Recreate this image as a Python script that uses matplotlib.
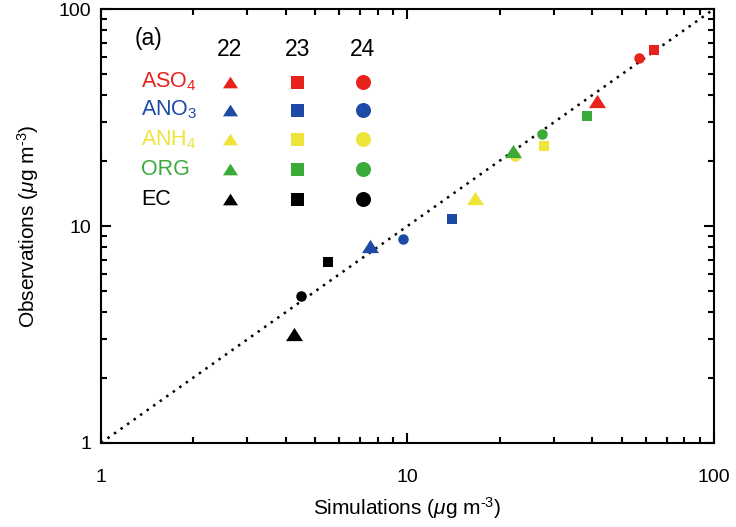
import numpy as np
import matplotlib
matplotlib.use('Agg')
import matplotlib.pyplot as plt

plt.rcParams['font.family'] = ['Liberation Sans', 'DejaVu Sans']
plt.rcParams['mathtext.fontset'] = 'custom'
plt.rcParams['mathtext.rm'] = 'Liberation Sans'
plt.rcParams['mathtext.it'] = 'Liberation Sans:italic'

# species and colours
species = ['ASO$_4$', 'ANO$_3$', 'ANH$_4$', 'ORG', 'EC']
colors = ['#e8231d', '#1d4aa6', '#efe43a', '#3aab38', '#000000']
days = ['22', '23', '24']

# simulations (x) / observations (y), one list per day, order as species
sim_22 = [41.5, 7.55, 16.6, 22.1, 4.27]
obs_22 = [37.7, 8.09, 13.4, 22.2, 3.19]
sim_23 = [63.7, 14.0, 27.9, 38.6, 5.49]
obs_23 = [64.7, 10.8, 23.4, 32.2, 6.85]
sim_24 = [57.1, 9.65, 22.5, 27.4, 4.49]
obs_24 = [59.3, 8.71, 21.0, 26.5, 4.76]

# wide triangle marker
tri = [(-1, -0.78), (1, -0.78), (0, 0.78), (-1, -0.78)]

fig = plt.figure(figsize=(7.36, 5.27), dpi=100)
ax = fig.add_axes([0.1372, 0.1594, 0.8329, 0.8235])

ax.plot([1, 100], [1, 100], color='black', lw=1.8, linestyle=(0, (1, 2.2)), zorder=1)

for i in range(len(species)):
    ax.plot(sim_22[i], obs_22[i], marker=tri, ms=17 * 0.72, color=colors[i], ls='none', mew=0, zorder=3)
    ax.plot(sim_23[i], obs_23[i], marker='s', ms=10.5 * 0.72, color=colors[i], ls='none', mew=0, zorder=3)
    ax.plot(sim_24[i], obs_24[i], marker='o', ms=10.5 * 0.72, color=colors[i], ls='none', mew=0, zorder=3)

ax.set_xscale('log')
ax.set_yscale('log')
ax.set_xlim(1, 100)
ax.set_ylim(1, 100)
ax.set_xticks([1, 10, 100])
ax.set_xticklabels(['1', '10', '100'])
ax.set_yticks([1, 10, 100])
ax.set_yticklabels(['1', '10', '100'])

for s in ax.spines.values():
    s.set_linewidth(1.5)
ax.tick_params(which='both', direction='in', top=True, right=True, width=1.5)
ax.tick_params(which='major', length=7.5)
ax.tick_params(which='minor', length=4.3)
ax.tick_params(axis='x', which='major', pad=19, labelsize=14)
ax.tick_params(axis='y', which='major', pad=7, labelsize=14)

ax.set_xlabel('Simulations ($\\mu$g m$^{\\text{-}3}$)', fontsize=15, labelpad=6)
ax.set_ylabel('Observations ($\\mu$g m$^{\\text{-}3}$)', fontsize=15, labelpad=13)

# legend table
tr = ax.transAxes
ax.text(0.055, 0.933, '(a)', transform=tr, fontsize=16.5, ha='left', va='center')
col_x = [0.210, 0.320, 0.427]
row_y = [0.832, 0.767, 0.700, 0.631, 0.562]
for j in range(3):
    ax.text(col_x[j], 0.906, days[j], transform=tr, fontsize=16.5, ha='center', va='center')
for i in range(len(species)):
    ax.text(0.066, row_y[i], species[i], transform=tr, fontsize=15.5, color=colors[i],
            ha='left', va='center')
    ax.plot(col_x[0], row_y[i], marker=tri, ms=15 * 0.72, color=colors[i], transform=tr, mew=0)
    ax.plot(col_x[1], row_y[i], marker='s', ms=13 * 0.72, color=colors[i], transform=tr, mew=0)
    ax.plot(col_x[2], row_y[i], marker='o', ms=15 * 0.72, color=colors[i], transform=tr, mew=0)

fig.savefig('out.png', dpi=100)
